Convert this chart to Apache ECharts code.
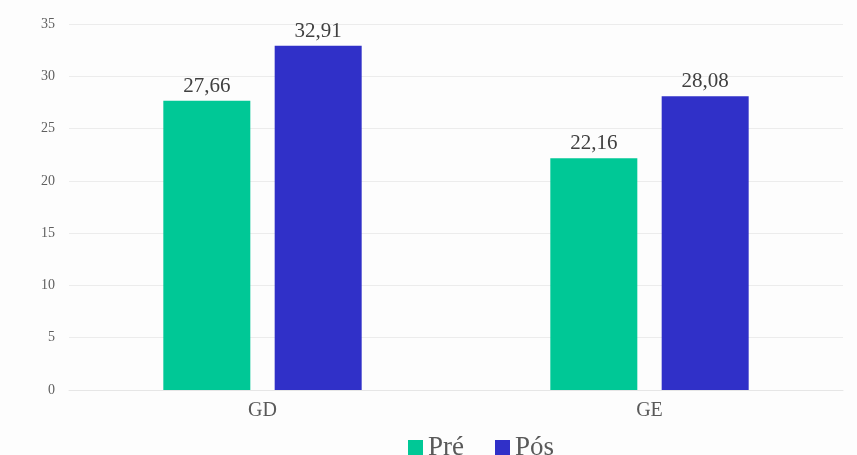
<!DOCTYPE html>
<html>
<head>
<meta charset="utf-8">
<script src="https://cdn.jsdelivr.net/npm/echarts@6/dist/echarts.min.js"></script>
<style>
  html, body { margin: 0; padding: 0; background: #fdfdfd; }
  #chart { width: 857px; height: 455px; }
</style>
</head>
<body>
<div id="chart"></div>
<script>
// Groups on the x axis
const categories = ['GD', 'GE'];
// Scores before and after
const preValues = [27.66, 22.16];
const posValues = [32.91, 28.08];
const seriesNames = ['Pré', 'Pós'];

const serif = '"Liberation Serif", "DejaVu Serif", serif';
const fmt = p => p.value.toFixed(2).replace('.', ',');

const chart = echarts.init(document.getElementById('chart'));
chart.setOption({
  animation: false,
  backgroundColor: '#fdfdfd',
  grid: { left: 69, right: 14, top: 24, bottom: 65, containLabel: false },
  legend: {
    data: seriesNames,
    top: 429,
    left: 403,
    itemWidth: 15,
    itemHeight: 15,
    itemGap: 31,
    icon: 'rect',
    textStyle: { fontFamily: serif, fontSize: 27, color: '#595959', lineHeight: 27 }
  },
  xAxis: {
    type: 'category',
    data: categories,
    axisLine: { show: true, lineStyle: { color: '#e6e6e6' } },
    axisTick: { show: false },
    axisLabel: { fontFamily: serif, fontSize: 20, color: '#595959', margin: 11 }
  },
  yAxis: {
    type: 'value',
    min: 0,
    max: 35,
    interval: 5,
    axisLine: { show: false },
    axisTick: { show: false },
    splitLine: { lineStyle: { color: '#ececec' } },
    axisLabel: { fontFamily: serif, fontSize: 14, color: '#5f5f5f', margin: 14 }
  },
  series: [
    {
      name: seriesNames[0],
      type: 'bar',
      data: preValues,
      barWidth: 87,
      barGap: '28%',
      itemStyle: { color: '#00c896' },
      label: { show: true, position: 'top', distance: 4, formatter: fmt,
               fontFamily: serif, fontSize: 21, color: '#404040' }
    },
    {
      name: seriesNames[1],
      type: 'bar',
      data: posValues,
      barWidth: 87,
      itemStyle: { color: '#3030c8' },
      label: { show: true, position: 'top', distance: 4, formatter: fmt,
               fontFamily: serif, fontSize: 21, color: '#404040' }
    }
  ]
});
</script>
</body>
</html>
